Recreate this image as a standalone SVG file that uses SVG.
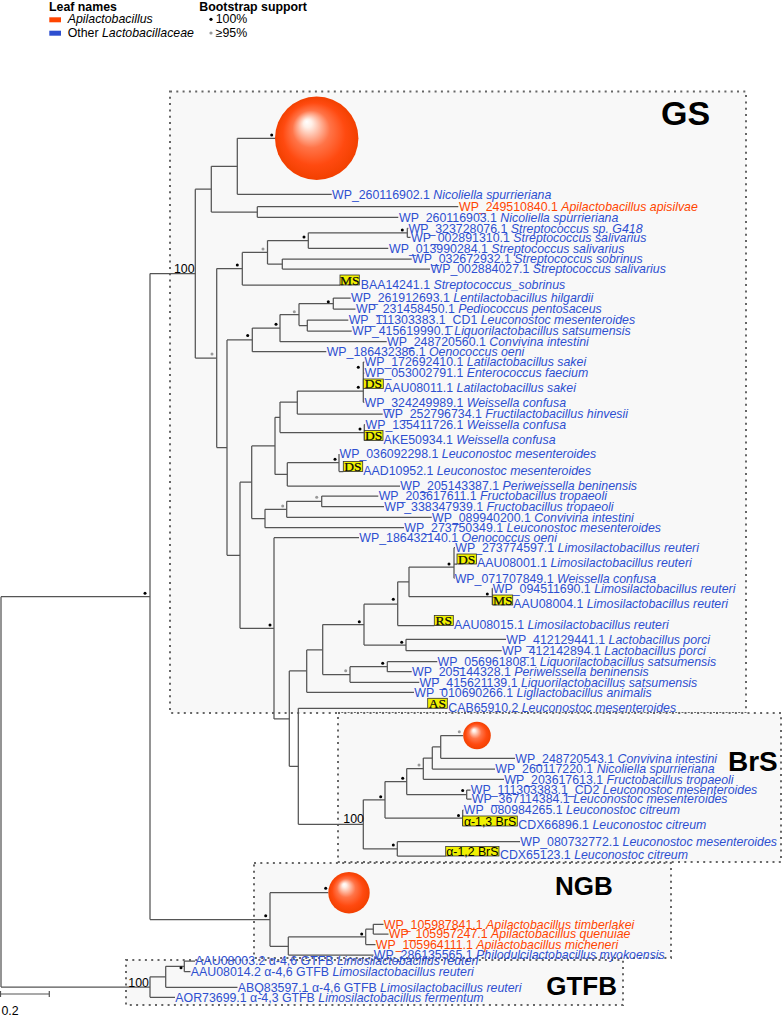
<svg xmlns="http://www.w3.org/2000/svg" width="784" height="1016" viewBox="0 0 784 1016">
<defs>
<radialGradient id="sph" cx="0.5" cy="0.5" r="0.5" fx="0.38" fy="0.3">
<stop offset="0" stop-color="#ffffff"/>
<stop offset="0.1" stop-color="#fff0e8"/>
<stop offset="0.45" stop-color="#ff7448"/>
<stop offset="0.75" stop-color="#ff4a10"/>
<stop offset="1" stop-color="#f24000"/>
</radialGradient>
<style>
.t{font-family:"Liberation Sans",Arial,sans-serif;font-size:12.35px}
.b{fill:#2d4fd0}.o{fill:#ff4500}.k{fill:#000}
.i{font-style:italic}
.bold{font-weight:bold}
.br{fill:none;stroke:#555;stroke-width:1.25}
.box{fill:#f8f8f8;stroke:#666;stroke-width:2;stroke-dasharray:2 4.3}
.hl{fill:#f0f000;stroke:#333;stroke-width:0.8}
.hlt{font-family:"Liberation Serif","Times New Roman",serif;font-size:13.5px;fill:#000;stroke:#222;stroke-width:0.25;text-anchor:middle}
.hls{font-family:"Liberation Sans",Arial,sans-serif;font-size:12.3px;fill:#000;text-anchor:middle}
.db{fill:#000}.dg{fill:#999}
.lab{font-family:"Liberation Sans",Arial,sans-serif;font-weight:bold;fill:#000}
</style>
</defs>
<rect width="784" height="1016" fill="#fff"/>

<g id="legend">
<text class="t bold k" x="49" y="11">Leaf names</text>
<rect x="49.3" y="17.3" width="11.7" height="5" fill="#ff4500"/>
<text class="t k i" x="67.7" y="22.7">Apilactobacillus</text>
<rect x="49.3" y="30.7" width="11.7" height="5" fill="#2d4fd0"/>
<text class="t k" x="67.7" y="36.7">Other <tspan class="i">Lactobacillaceae</tspan></text>
<text class="t bold k" x="199.3" y="11">Bootstrap support</text>
<circle cx="211" cy="19.3" r="1.6" class="db"/>
<text class="t k" x="215.7" y="23">100%</text>
<circle cx="211" cy="33" r="1.6" class="dg"/>
<text class="t k" x="215.7" y="37">≥95%</text>
</g>

<g id="clade-boxes">
<g id="box-GS"><rect class="box" x="170" y="91.5" width="576" height="621.5"/><text class="lab" x="661" y="125" font-size="34">GS</text></g>
<g id="box-BrS"><rect class="box" x="338" y="713" width="443" height="149"/><text class="lab" x="728" y="771" font-size="28">BrS</text></g>
<g id="box-NGB"><rect class="box" x="254" y="863" width="417" height="95"/><text class="lab" x="555" y="895" font-size="26">NGB</text></g>
<g id="box-GTFB"><rect class="box" x="126" y="960" width="497" height="45"/><text class="lab" x="617" y="995" font-size="26" text-anchor="end">GTFB</text></g>
</g>

<g id="connectors" class="br">
<path d="M1 596.7V987M1 596.7H150M1 987H150"/>
<path d="M150 273.6V919.5M150 273.6H195.3M150 919.5H270"/>
<path d="M195.3 189.2V358.1M195.3 189.2H211.3M195.3 358.1H216.7"/>
<path d="M211.3 166.3V212M211.3 166.3H237.3M211.3 212H257.3"/>
<path d="M237.3 138.3V194.3M237.3 138.3H276M237.3 194.3H331.7"/>
<path d="M257.3 206.7V217.3M257.3 206.7H458.3M257.3 217.3H398.3"/>
<path d="M216.7 268.5V447.6M216.7 268.5H242.3M216.7 447.6H227"/>
<path d="M242.3 252.4V285M242.3 252.4H267.5M242.3 285H340"/>
<path d="M267.5 240.6V264M267.5 240.6H308.3M267.5 264H282.3"/>
<path d="M308.3 232.8V248.3M308.3 232.8H407.3M308.3 248.3H388.3"/>
<path d="M407.3 228.3V237.3M407.3 228.3H408.3M407.3 237.3H410.5"/>
<path d="M282.3 259V269M282.3 259H411.7M282.3 269H430"/>
<path d="M227 339.9V555.3M227 339.9H252.3M227 555.3H240"/>
<path d="M252.3 328.1V351.7M252.3 328.1H280M252.3 351.7H326.3"/>
<path d="M280 314.5V341.7M280 314.5H299M280 341.7H386.7"/>
<path d="M299 303.5V325.5M299 303.5H333.3M299 325.5H307.3"/>
<path d="M333.3 298V309M333.3 298H350.7M333.3 309H355.5"/>
<path d="M307.3 320V331M307.3 320H348.3M307.3 331H351.7"/>
<path d="M240 482.2V628.3M240 482.2H251.7M240 628.3H274"/>
<path d="M251.7 445.9V518.5M251.7 445.9H275M251.7 518.5H265"/>
<path d="M275 417.3V474.4M275 417.3H280M275 474.4H287.3"/>
<path d="M280 402.1V432.5M280 402.1H297.3M280 432.5H364.3"/>
<path d="M297.3 391V414M297.3 391H363.3M297.3 414H382.7"/>
<path d="M363.3 362V402.3M363.3 362H364.3M363.3 373H364.3M363.3 402.3H364.3"/>
<path d="M364.3 424.5V440.5M364.3 424.5H365"/>
<path d="M287.3 462.7V486M287.3 462.7H339M287.3 486H400"/>
<path d="M339 454V471.5M339 471.5H343.3"/>
<path d="M265 509.3V527.7M265 509.3H286.7M265 527.7H404"/>
<path d="M286.7 501.3V517.3M286.7 501.3H321.7M286.7 517.3H431.7"/>
<path d="M321.7 496V506.7M321.7 496H378.3M321.7 506.7H384"/>
<path d="M274 537.7V718.9M274 537.7H359M274 718.9H289.3"/>
<path d="M289.3 670.9V766.3M289.3 670.9H306.7M289.3 766.3H298.3"/>
<path d="M306.7 649.9V692.3M306.7 649.9H322.7M306.7 692.3H414"/>
<path d="M322.7 624.6V674.5M322.7 624.6H364M322.7 674.5H350"/>
<path d="M364 604.2V645M364 604.2H397.7M364 645H406"/>
<path d="M397.7 581.8V625.5M397.7 581.8H409M397.7 625.5H434.3"/>
<path d="M409 567.1V596.7M409 567.1H454M409 596.7H492.3"/>
<path d="M454 547.7V578.3M454 547.7H455M454 564H457M454 578.3H454.5"/>
<path d="M492.3 588.3V605M492.3 588.3H492.8"/>
<path d="M406 639.3V650.7M406 639.3H506M406 650.7H501.7"/>
<path d="M350 666.7V682.3M350 666.7H387.3M350 682.3H419.3"/>
<path d="M387.3 661.7V671.7M387.3 661.7H437.3M387.3 671.7H411.7"/>
<path d="M298.3 708.3V824.3M298.3 708.3H427.7M298.3 824.3H363.3"/>
<path d="M363.3 799.8V848.9M363.3 799.8H385M363.3 848.9H397.3"/>
<path d="M385 781.6V818M385 781.6H406.7M385 818H462.7"/>
<path d="M406.7 768.6V794.5M406.7 768.6H423.3M406.7 794.5H466.7"/>
<path d="M423.3 758V779.3M423.3 758H432.3M423.3 779.3H504"/>
<path d="M432.3 746.9V769M432.3 746.9H440.7M432.3 769H495"/>
<path d="M440.7 735.5V758.3M440.7 735.5H463M440.7 758.3H515"/>
<path d="M466.7 790V799M466.7 790H470.5M466.7 799H471.5"/>
<path d="M462.7 810V826M462.7 810H463.5"/>
<path d="M397.3 841.7V856M397.3 841.7H520M397.3 856H445.7"/>
<path d="M270 892.7V946.3M270 892.7H328.3M270 946.3H288.3"/>
<path d="M288.3 936.9V955M288.3 936.9H365.7M288.3 955H373.5"/>
<path d="M365.7 929.2V944.5M365.7 929.2H373.3M365.7 944.5H375.5"/>
<path d="M373.3 924.3V934M373.3 924.3H383.5M373.3 934H388.5"/>
<path d="M150 976.8V997.3M150 976.8H165.7M150 997.3H175"/>
<path d="M165.7 966.3V987.3M165.7 966.3H184.3M165.7 987.3H237.5"/>
<path d="M184.3 961V971.7M184.3 961H195M184.3 971.7H190.5"/>
</g>

<g id="collapsed-clades">
<circle id="sphere-GS" cx="316.7" cy="138.3" r="41.7" fill="url(#sph)"/>
<circle id="sphere-BrS" cx="477" cy="735.5" r="13.8" fill="url(#sph)"/>
<circle id="sphere-NGB" cx="349" cy="892.7" r="20.7" fill="url(#sph)"/>
</g>

<g id="support">
<g class="db">
<circle cx="271.7" cy="135" r="1.5"/><circle cx="402.3" cy="230" r="1.5"/><circle cx="304" cy="237" r="1.5"/>
<circle cx="237.3" cy="265" r="1.5"/><circle cx="328.3" cy="301.7" r="1.5"/><circle cx="276" cy="324.3" r="1.5"/>
<circle cx="247.7" cy="335.5" r="1.5"/><circle cx="358.3" cy="367.3" r="1.5"/><circle cx="358.3" cy="387.3" r="1.5"/>
<circle cx="360" cy="429" r="1.5"/><circle cx="335" cy="459.3" r="1.5"/><circle cx="449" cy="564" r="1.5"/>
<circle cx="487.3" cy="594" r="1.5"/><circle cx="393.3" cy="599.3" r="1.5"/><circle cx="359.3" cy="621.7" r="1.5"/>
<circle cx="270" cy="625" r="1.5"/><circle cx="401.7" cy="642.3" r="1.5"/><circle cx="382.7" cy="663.3" r="1.5"/>
<circle cx="145" cy="593.3" r="1.5"/><circle cx="380.7" cy="796.7" r="1.5"/><circle cx="402.7" cy="778.3" r="1.5"/>
<circle cx="462.7" cy="790.5" r="1.5"/><circle cx="458.5" cy="815.5" r="1.5"/><circle cx="393.3" cy="845" r="1.5"/>
<circle cx="265.7" cy="915.7" r="1.5"/><circle cx="325.7" cy="888.3" r="1.5"/><circle cx="361.7" cy="934" r="1.5"/>
<circle cx="181" cy="967.7" r="1.5"/>
</g>
<g class="dg">
<circle cx="263" cy="249" r="1.5"/><circle cx="212" cy="354" r="1.5"/><circle cx="294.3" cy="311.7" r="1.5"/>
<circle cx="282.7" cy="506" r="1.5"/><circle cx="316.7" cy="497.3" r="1.5"/><circle cx="345.7" cy="670.7" r="1.5"/>
<circle cx="459.3" cy="731.7" r="1.5"/><circle cx="419" cy="765" r="1.5"/>
</g>
<text class="t k" x="174" y="272.5">100</text>
<text class="t k" x="343.3" y="823">100</text>
<text class="t k" x="128.3" y="987">100</text>
</g>

<g id="leaves" class="t">
<g id="leaf-WP_260116902"><text class="b" x="332" y="198.6">WP_260116902.1 <tspan class="i">Nicoliella spurrieriana</tspan></text></g>
<g id="leaf-WP_249510840"><text class="o" x="459" y="211">WP_249510840.1 <tspan class="i">Apilactobacillus apisilvae</tspan></text></g>
<g id="leaf-WP_260116903"><text class="b" x="399" y="221.6">WP_260116903.1 <tspan class="i">Nicoliella spurrieriana</tspan></text></g>
<g id="leaf-WP_323728076"><text class="b" x="408.5" y="232.6">WP_323728076.1 <tspan class="i">Streptococcus sp. G418</tspan></text></g>
<g id="leaf-WP_002891310"><text class="b" x="411" y="241.6">WP_002891310.1 <tspan class="i">Streptococcus salivarius</tspan></text></g>
<g id="leaf-WP_013990284"><text class="b" x="389" y="252.6">WP_013990284.1 <tspan class="i">Streptococcus salivarius</tspan></text></g>
<g id="leaf-WP_032672932"><text class="b" x="412" y="263.3">WP_032672932.1 <tspan class="i">Streptococcus sobrinus</tspan></text></g>
<g id="leaf-WP_002884027"><text class="b" x="430.5" y="273.3">WP_002884027.1 <tspan class="i">Streptococcus salivarius</tspan></text></g>
<g id="leaf-BAA14241"><rect class="hl" x="340" y="275" width="19.3" height="10"/><text class="hlt" x="349.7" y="284.6">MS</text><text class="b" x="360.7" y="288.6">BAA14241.1 <tspan class="i">Streptococcus_sobrinus</tspan></text></g>
<g id="leaf-WP_261912693"><text class="b" x="351" y="302.3">WP_261912693.1 <tspan class="i">Lentilactobacillus hilgardii</tspan></text></g>
<g id="leaf-WP_231458450"><text class="b" x="356" y="313.3">WP_231458450.1 <tspan class="i">Pediococcus pentosaceus</tspan></text></g>
<g id="leaf-WP_111303383_CD1"><text class="b" x="348.7" y="324.3">WP_111303383.1_CD1 <tspan class="i">Leuconostoc mesenteroides</tspan></text></g>
<g id="leaf-WP_415619990"><text class="b" x="352" y="335.3">WP_415619990.1 <tspan class="i">Liquorilactobacillus satsumensis</tspan></text></g>
<g id="leaf-WP_248720560"><text class="b" x="387" y="346">WP_248720560.1 <tspan class="i">Convivina intestini</tspan></text></g>
<g id="leaf-WP_186432386"><text class="b" x="326.7" y="356">WP_186432386.1 <tspan class="i">Oenococcus oeni</tspan></text></g>
<g id="leaf-WP_172692410"><text class="b" x="364.5" y="366.3">WP_172692410.1 <tspan class="i">Latilactobacillus sakei</tspan></text></g>
<g id="leaf-WP_053002791"><text class="b" x="364.5" y="377.3">WP_053002791.1 <tspan class="i">Enterococcus faecium</tspan></text></g>
<g id="leaf-AAU08011"><rect class="hl" x="363.3" y="379" width="20" height="9.5"/><text class="hlt" x="373.3" y="388.1">DS</text><text class="b" x="384" y="392">AAU08011.1 <tspan class="i">Latilactobacillus sakei</tspan></text></g>
<g id="leaf-WP_324249989"><text class="b" x="364.5" y="406.6">WP_324249989.1 <tspan class="i">Weissella confusa</tspan></text></g>
<g id="leaf-WP_252796734"><text class="b" x="383" y="418.3">WP_252796734.1 <tspan class="i">Fructilactobacillus hinvesii</tspan></text></g>
<g id="leaf-WP_135411726"><text class="b" x="365.5" y="428.8">WP_135411726.1 <tspan class="i">Weissella confusa</tspan></text></g>
<g id="leaf-AKE50934"><rect class="hl" x="364.3" y="430.5" width="18.7" height="10"/><text class="hlt" x="373.6" y="440.1">DS</text><text class="b" x="383.5" y="444.3">AKE50934.1 <tspan class="i">Weissella confusa</tspan></text></g>
<g id="leaf-WP_036092298"><text class="b" x="339.5" y="458.3">WP_036092298.1 <tspan class="i">Leuconostoc mesenteroides</tspan></text></g>
<g id="leaf-AAD10952"><rect class="hl" x="343.3" y="461.5" width="19.4" height="10"/><text class="hlt" x="353" y="471.1">DS</text><text class="b" x="363.3" y="475">AAD10952.1 <tspan class="i">Leuconostoc mesenteroides</tspan></text></g>
<g id="leaf-WP_205143387"><text class="b" x="400.3" y="490.3">WP_205143387.1 <tspan class="i">Periweissella beninensis</tspan></text></g>
<g id="leaf-WP_203617611"><text class="b" x="378.7" y="500.3">WP_203617611.1 <tspan class="i">Fructobacillus tropaeoli</tspan></text></g>
<g id="leaf-WP_338347939"><text class="b" x="384.3" y="511">WP_338347939.1 <tspan class="i">Fructobacillus tropaeoli</tspan></text></g>
<g id="leaf-WP_089940200"><text class="b" x="432" y="521.6">WP_089940200.1 <tspan class="i">Convivina intestini</tspan></text></g>
<g id="leaf-WP_273750349"><text class="b" x="404.3" y="532">WP_273750349.1 <tspan class="i">Leuconostoc mesenteroides</tspan></text></g>
<g id="leaf-WP_186432140"><text class="b" x="359.3" y="542">WP_186432140.1 <tspan class="i">Oenococcus oeni</tspan></text></g>
<g id="leaf-WP_273774597"><text class="b" x="455.3" y="552">WP_273774597.1 <tspan class="i">Limosilactobacillus reuteri</tspan></text></g>
<g id="leaf-AAU08001"><rect class="hl" x="457" y="554" width="19.5" height="10"/><text class="hlt" x="466.7" y="563.6">DS</text><text class="b" x="477" y="567.3">AAU08001.1 <tspan class="i">Limosilactobacillus reuteri</tspan></text></g>
<g id="leaf-WP_071707849"><text class="b" x="454.7" y="582.6">WP_071707849.1 <tspan class="i">Weissella confusa</tspan></text></g>
<g id="leaf-WP_094511690"><text class="b" x="492.8" y="592.6">WP_094511690.1 <tspan class="i">Limosilactobacillus reuteri</tspan></text></g>
<g id="leaf-AAU08004"><rect class="hl" x="492.7" y="595" width="20" height="10"/><text class="hlt" x="502.7" y="604.6">MS</text><text class="b" x="513.3" y="607.6">AAU08004.1 <tspan class="i">Limosilactobacillus reuteri</tspan></text></g>
<g id="leaf-AAU08015"><rect class="hl" x="434.3" y="615.5" width="19" height="10"/><text class="hlt" x="443.8" y="625.1">RS</text><text class="b" x="454" y="629.3">AAU08015.1 <tspan class="i">Limosilactobacillus reuteri</tspan></text></g>
<g id="leaf-WP_412129441"><text class="b" x="506.3" y="643.6">WP_412129441.1 <tspan class="i">Lactobacillus porci</tspan></text></g>
<g id="leaf-WP_412142894"><text class="b" x="502" y="655">WP_412142894.1 <tspan class="i">Lactobacillus porci</tspan></text></g>
<g id="leaf-WP_056961808"><text class="b" x="437.6" y="666">WP_056961808.1 <tspan class="i">Liquorilactobacillus satsumensis</tspan></text></g>
<g id="leaf-WP_205144328"><text class="b" x="412" y="676">WP_205144328.1 <tspan class="i">Periweissella beninensis</tspan></text></g>
<g id="leaf-WP_415621139"><text class="b" x="419.6" y="686.6">WP_415621139.1 <tspan class="i">Liquorilactobacillus satsumensis</tspan></text></g>
<g id="leaf-WP_010690266"><text class="b" x="414.3" y="696.6">WP_010690266.1 <tspan class="i">Ligilactobacillus animalis</tspan></text></g>
<g id="leaf-CAB65910"><rect class="hl" x="427.7" y="698.3" width="19.6" height="10"/><text class="hlt" x="437.5" y="707.9">AS</text><text class="b" x="448.3" y="712.3">CAB65910.2 <tspan class="i">Leuconostoc mesenteroides</tspan></text></g>
<g id="leaf-WP_248720543"><text class="b" x="515.3" y="762.6">WP_248720543.1 <tspan class="i">Convivina intestini</tspan></text></g>
<g id="leaf-WP_260117220"><text class="b" x="495.3" y="773.3">WP_260117220.1 <tspan class="i">Nicoliella spurrieriana</tspan></text></g>
<g id="leaf-WP_203617613"><text class="b" x="504.3" y="783.6">WP_203617613.1 <tspan class="i">Fructobacillus tropaeoli</tspan></text></g>
<g id="leaf-WP_111303383_CD2"><text class="b" x="470.8" y="794.3">WP_111303383.1_CD2 <tspan class="i">Leuconostoc mesenteroides</tspan></text></g>
<g id="leaf-WP_367114384"><text class="b" x="471.8" y="803.3">WP_367114384.1 <tspan class="i">Leuconostoc mesenteroides</tspan></text></g>
<g id="leaf-WP_080984265"><text class="b" x="463.8" y="814.3">WP_080984265.1 <tspan class="i">Leuconostoc citreum</tspan></text></g>
<g id="leaf-CDX66896"><rect class="hl" x="462.7" y="816" width="54.6" height="10"/><text class="hls" x="490" y="825.6">α-1,3 BrS</text><text class="b" x="518.3" y="829.3">CDX66896.1 <tspan class="i">Leuconostoc citreum</tspan></text></g>
<g id="leaf-WP_080732772"><text class="b" x="520.3" y="846">WP_080732772.1 <tspan class="i">Leuconostoc mesenteroides</tspan></text></g>
<g id="leaf-CDX65123"><rect class="hl" x="445.7" y="846.5" width="53.3" height="9.5"/><text class="hls" x="472.3" y="855.6">α-1,2 BrS</text><text class="b" x="500" y="859.3">CDX65123.1 <tspan class="i">Leuconostoc citreum</tspan></text></g>
<g id="leaf-WP_105987841"><text class="o" x="383.8" y="928.6">WP_105987841.1 <tspan class="i">Apilactobacillus timberlakei</tspan></text></g>
<g id="leaf-WP_105957247"><text class="o" x="388.8" y="938.3">WP_105957247.1 <tspan class="i">Apilactobacillus quenuiae</tspan></text></g>
<g id="leaf-WP_105964111"><text class="o" x="375.8" y="948.8">WP_105964111.1 <tspan class="i">Apilactobacillus micheneri</tspan></text></g>
<g id="leaf-WP_286135565"><text class="b" x="373.8" y="959.3">WP_286135565.1 <tspan class="i">Philodulcilactobacillus myokoensis</tspan></text></g>
<g id="leaf-AAU08003"><text class="b" x="195.3" y="965.3">AAU08003.2 α-4,6 GTFB <tspan class="i">Limosilactobacillus reuteri</tspan></text></g>
<g id="leaf-AAU08014"><text class="b" x="190.8" y="976">AAU08014.2 α-4,6 GTFB <tspan class="i">Limosilactobacillus reuteri</tspan></text></g>
<g id="leaf-ABQ83597"><text class="b" x="237.8" y="991.6">ABQ83597.1 α-4,6 GTFB <tspan class="i">Limosilactobacillus reuteri</tspan></text></g>
<g id="leaf-AOR73699"><text class="b" x="175.3" y="1001.6">AOR73699.1 α-4,3 GTFB <tspan class="i">Limosilactobacillus fermentum</tspan></text></g>
</g>

<g id="scale-bar">
<path d="M0.5 994H49.3M0.5 991V997M49.3 991V997" fill="none" stroke="#555" stroke-width="1.2"/>
<text class="t k" x="1.5" y="1015">0.2</text>
</g>
</svg>
